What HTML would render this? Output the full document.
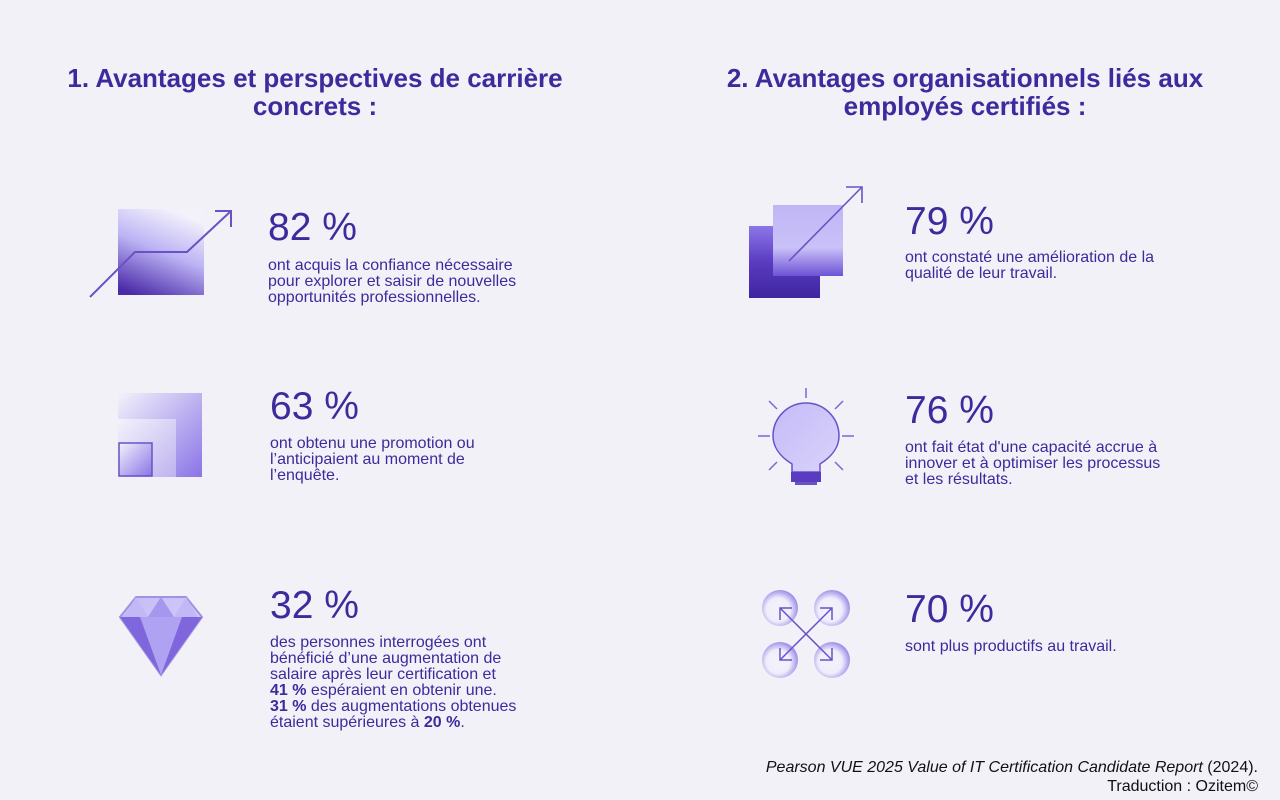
<!DOCTYPE html>
<html><head><meta charset="utf-8">
<style>
html,body{margin:0;padding:0;}
body{width:1280px;height:800px;background:#f2f1f8;position:relative;overflow:hidden;font-family:"Liberation Sans",Arial,sans-serif;color:#3f2aa0;}
.t{position:absolute;font-weight:bold;font-size:26px;line-height:28px;text-align:center;color:#3d2a9c;}
.n{position:absolute;font-size:39px;line-height:40px;color:#3d2a9c;}
.d{position:absolute;font-size:16px;line-height:16px;color:#3d2a9c;}
svg{position:absolute;overflow:visible;}
.src{position:absolute;right:22px;top:758px;font-size:16px;line-height:19px;text-align:right;color:#111;}
</style></head><body>
<svg width="0" height="0"><defs>
<linearGradient id="g1" x1="0.6" y1="0" x2="0.2" y2="1"><stop offset="0" stop-color="#f3f2fb"/><stop offset="0.45" stop-color="#bdb4f5"/><stop offset="1" stop-color="#4a2aa8"/></linearGradient>
<linearGradient id="g2" x1="0" y1="0" x2="1" y2="1"><stop offset="0" stop-color="#f3f2fb"/><stop offset="1" stop-color="#8a74e6"/></linearGradient>
<linearGradient id="g3" x1="0" y1="0" x2="0" y2="1"><stop offset="0" stop-color="#c0b6f6"/><stop offset="0.6" stop-color="#c9c1f8"/><stop offset="1" stop-color="#6d52d6"/></linearGradient>
<linearGradient id="g4" x1="0" y1="0" x2="0" y2="1"><stop offset="0" stop-color="#8d76e8"/><stop offset="0.5" stop-color="#5a3cc0"/><stop offset="1" stop-color="#3e24a0"/></linearGradient>
<radialGradient id="g5" cx="0.45" cy="0.55" r="0.6"><stop offset="0" stop-color="#f3f2fb"/><stop offset="0.55" stop-color="#f0eefb"/><stop offset="1" stop-color="#8f7ae8"/></radialGradient>
<linearGradient id="g6" x1="0" y1="0" x2="1" y2="1"><stop offset="0" stop-color="#c4bbf7"/><stop offset="1" stop-color="#d9d3fb"/></linearGradient>
</defs></svg>

<div class="t" style="left:15px;top:64px;width:600px;">1. Avantages et perspectives de carrière<br>concrets :</div>
<div class="t" style="left:665px;top:64px;width:600px;">2. Avantages organisationnels liés aux<br>employés certifiés :</div>

<svg style="left:85px;top:205px" width="150" height="100">
<rect x="33" y="4" width="86" height="86" fill="url(#g1)"/>
<polyline points="5,92 50,47 102,47 146,6" fill="none" stroke="#6a52c6" stroke-width="2"/>
<polyline points="130,6 146,6 146,22" fill="none" stroke="#6a52c6" stroke-width="2"/>
</svg>
<div class="n" style="left:268px;top:208px;">82 %</div>
<div class="d" style="left:268px;top:258px;">ont acquis la confiance nécessaire<br>pour explorer et saisir de nouvelles<br>opportunités professionnelles.</div>

<svg style="left:118px;top:393px" width="86" height="86">
<rect x="0" y="0" width="84" height="84" fill="url(#g2)"/>
<rect x="0" y="26" width="58" height="58" fill="#f3f2fb"/>
<rect x="0" y="26" width="58" height="58" fill="url(#g2)" opacity="0.5"/>
<rect x="1" y="50" width="33" height="33" fill="url(#g2)" stroke="#6a52c6" stroke-width="1.5"/>
</svg>
<div class="n" style="left:270px;top:387px;">63 %</div>
<div class="d" style="left:270px;top:436px;">ont obtenu une promotion ou<br>l’anticipaient au moment de<br>l’enquête.</div>

<svg style="left:118px;top:595px" width="86" height="82">
<polygon points="2,22 18,2 68,2 84,22 43,80" fill="url(#g6)" stroke="#a094e0" stroke-width="2"/>
<polygon points="2,22 84,22 43,80" fill="#7f66dc"/>
<polygon points="22,22 64,22 43,80" fill="#b0a2f2"/>
<polygon points="18,2 30,22 6,22" fill="#c2b8f6"/>
<polygon points="68,2 56,22 80,22" fill="#c2b8f6"/>
<polygon points="43,2 30,22 56,22" fill="#a596ee"/>
</svg>
<div class="n" style="left:270px;top:586px;">32 %</div>
<div class="d" style="left:270px;top:635px;">des personnes interrogées ont<br>bénéficié d’une augmentation de<br>salaire après leur certification et<br><b>41 %</b> espéraient en obtenir une.<br><b>31 %</b> des augmentations obtenues<br>étaient supérieures à <b>20 %</b>.</div>

<svg style="left:749px;top:185px" width="120" height="115">
<rect x="0" y="41" width="71" height="72" fill="url(#g4)"/>
<rect x="24" y="20" width="70" height="71" fill="url(#g3)"/>
<line x1="40" y1="76" x2="113" y2="2" stroke="#6a52c6" stroke-width="1.6"/>
<polyline points="97,2 113,2 113,18" fill="none" stroke="#6a52c6" stroke-width="1.6"/>
</svg>
<div class="n" style="left:905px;top:202px;">79 %</div>
<div class="d" style="left:905px;top:250px;">ont constaté une amélioration de la<br>qualité de leur travail.</div>

<svg style="left:755px;top:388px" width="102" height="100">
<g stroke="#7b66d8" stroke-width="1.5">
<line x1="51" y1="0" x2="51" y2="10"/><line x1="3" y1="48" x2="15" y2="48"/><line x1="87" y1="48" x2="99" y2="48"/>
<line x1="14" y1="13" x2="22" y2="21"/><line x1="88" y1="13" x2="80" y2="21"/>
<line x1="14" y1="82" x2="22" y2="74"/><line x1="88" y1="82" x2="80" y2="74"/>
</g>
<path d="M37,84 L37,76 C24,68 18,58 18,48 A33,33 0 1 1 84,48 C84,58 78,68 65,76 L65,84 Z" fill="url(#g6)" stroke="#6a52c6" stroke-width="1.5"/>
<rect x="36" y="84" width="30" height="10" fill="#5a3cc0"/>
<rect x="40" y="94" width="22" height="3" fill="#6a52c6"/>
</svg>
<div class="n" style="left:905px;top:391px;">76 %</div>
<div class="d" style="left:905px;top:440px;">ont fait état d'une capacité accrue à<br>innover et à optimiser les processus<br>et les résultats.</div>

<svg style="left:762px;top:590px" width="90" height="90">
<circle cx="18" cy="18" r="18" fill="url(#g5)"/>
<circle cx="70" cy="18" r="18" fill="url(#g5)"/>
<circle cx="18" cy="70" r="18" fill="url(#g5)"/>
<circle cx="70" cy="70" r="18" fill="url(#g5)"/>
<g stroke="#6a52c6" stroke-width="1.5" fill="none">
<line x1="18" y1="18" x2="70" y2="70"/><line x1="70" y1="18" x2="18" y2="70"/>
<polyline points="18,30 18,18 30,18"/><polyline points="58,18 70,18 70,30"/>
<polyline points="18,58 18,70 30,70"/><polyline points="58,70 70,70 70,58"/>
</g>
</svg>
<div class="n" style="left:905px;top:590px;">70 %</div>
<div class="d" style="left:905px;top:639px;">sont plus productifs au travail.</div>

<div class="src"><i>Pearson VUE 2025 Value of IT Certification Candidate Report</i> (2024).<br>Traduction : Ozitem©</div>
</body></html>
